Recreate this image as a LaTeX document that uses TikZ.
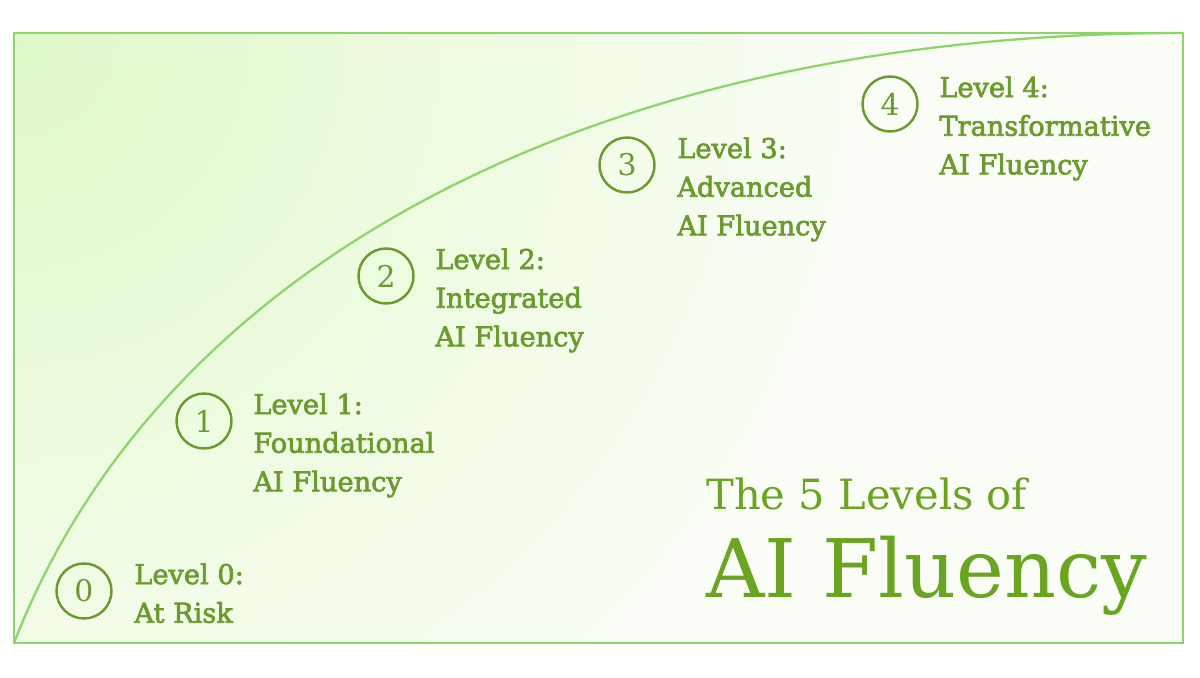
\documentclass[tikz,border=0pt]{standalone}
\usepackage{fontspec}
\setmainfont{DejaVu Serif}
\newfontfamily\levelfont{DejaVu Serif}[FakeBold=2.5]
\usetikzlibrary{positioning}
\definecolor{fluency}{HTML}{6B9A2E}
\definecolor{titlegreen}{HTML}{6AA522}
\definecolor{curveline}{HTML}{8DD46A}
\definecolor{mint}{HTML}{E0F8C8}
\definecolor{paper}{HTML}{F9FDF5}

\begin{document}
\begin{tikzpicture}[x=0.02cm, y=-0.02cm,
    level/.style={draw=fluency, circle, line width=1.4pt, minimum size=1.1cm, inner sep=0pt, text=fluency, font=\fontsize{17}{20}\selectfont},
    lbl/.style={anchor=north west, align=left, inner sep=0pt, text=fluency, font=\levelfont\fontsize{15.5}{22}\selectfont},
    edge/.style={curveline, line width=1.3pt}]

    \useasboundingbox (0,0) rectangle (1200,678);
    \fill[white] (0,0) rectangle (1200,678);

    % soft green corner
    \begin{scope}
        \clip (14,33) rectangle (1183,643);
        \fill[paper] (14,33) rectangle (1183,643);
        \shade[inner color=mint, outer color=paper] (14,33) circle (17cm);
    \end{scope}

    % frame and growth curve
    \draw[edge] (14,33) rectangle (1183,643);
    \coordinate (origin) at (14,643);
    \coordinate (peak) at (1183,33);
    \draw[edge] (origin) .. controls (158,271) and (583,33) .. (peak);

    % levels
    \node[level] (c0) at (84,591) {0};
    \node[lbl] (t0) at (134,563) {Level 0:\\At Risk};

    \node[level] (c1) at (204,421) {1};
    \node[lbl] (t1) at (253,393) {Level 1:\\Foundational\\AI Fluency};

    \node[level] (c2) at (386,276) {2};
    \node[lbl] (t2) at (435,248) {Level 2:\\Integrated\\AI Fluency};

    \node[level] (c3) at (627,165) {3};
    \node[lbl] (t3) at (677,137) {Level 3:\\Advanced\\AI Fluency};

    \node[level] (c4) at (890,104) {4};
    \node[lbl] (t4) at (939,76) {Level 4:\\Transformative\\AI Fluency};

    % title
    \node[anchor=base west, inner sep=0pt, text=titlegreen, font=\fontsize{23.7}{28}\selectfont] (head) at (706,510) {The 5 Levels of};
    \node[anchor=base west, inner sep=0pt, text=titlegreen, font=\fontsize{46}{55}\selectfont] (big) at (706,597) {AI Fluency};
\end{tikzpicture}
\end{document}
